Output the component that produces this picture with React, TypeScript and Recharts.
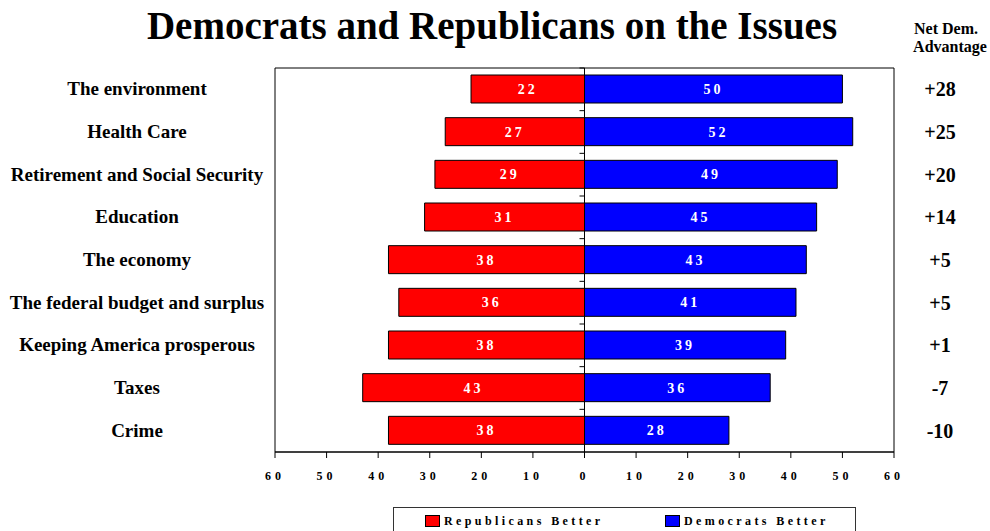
import { BarChart, Bar, XAxis, YAxis, ReferenceLine, ReferenceArea, LabelList } from 'recharts';

const issues = [
  'The environment',
  'Health Care',
  'Retirement and Social Security',
  'Education',
  'The economy',
  'The federal budget and surplus',
  'Keeping America prosperous',
  'Taxes',
  'Crime',
];
const repBetter = [22, 27, 29, 31, 38, 36, 38, 43, 38];
const demBetter = [50, 52, 49, 45, 43, 41, 39, 36, 28];
const netAdvantage = ['+28', '+25', '+20', '+14', '+5', '+5', '+1', '-7', '-10'];
const xTicks = [-60, -50, -40, -30, -20, -10, 0, 10, 20, 30, 40, 50, 60];
const seriesNames = ['Republicans Better', 'Democrats Better'];
const seriesColors = ['#ff0000', '#0000ff'];

const data = issues.map((issue, i) => ({
  issue,
  rep: -repBetter[i],
  dem: demBetter[i],
}));

const W = 990;
const H = 531;
const MARGIN = { top: 68, right: 0, bottom: 49, left: 0 };
const LEFT_AXIS_W = 275;
const RIGHT_AXIS_W = 96;
const X_AXIS_H = 30;
const PLOT_W = W - LEFT_AXIS_W - RIGHT_AXIS_W;
const PLOT_H = H - MARGIN.top - MARGIN.bottom - X_AXIS_H;
const ZERO_X = LEFT_AXIS_W + PLOT_W / 2;
const BAND = PLOT_H / issues.length;
const FONT = '"Liberation Serif", "Times New Roman", serif';

function LeftTick(props: any) {
  const { y, payload } = props;
  const bandTop = y - BAND / 2;
  return (
    <g>
      <text x={137} y={y} dy={6} textAnchor="middle" fontFamily={FONT} fontWeight="bold" fontSize={19} fill="#000">
        {payload.value}
      </text>
      <line x1={ZERO_X - 5} x2={ZERO_X} y1={bandTop} y2={bandTop} stroke="#000" />
    </g>
  );
}

function RightTick(props: any) {
  const { y, index } = props;
  return (
    <text x={940} y={y} dy={7} textAnchor="middle" fontFamily={FONT} fontWeight="bold" fontSize={20} fill="#000">
      {netAdvantage[index]}
    </text>
  );
}

const barLabel = {
  fill: '#fff',
  fontFamily: FONT,
  fontWeight: 'bold',
  fontSize: 14,
  letterSpacing: 3,
};

export default function App() {
  return (
    <div style={{ position: 'absolute', left: 0, top: 0, width: W, height: H, background: '#fff', overflow: 'hidden', fontFamily: FONT }}>
      <svg width={W} height={60} style={{ position: 'absolute', left: 0, top: 0 }}>
        <text x={492} y={39} textAnchor="middle" fontFamily={FONT} fontWeight="bold" fontSize={39} fill="#000">
          Democrats and Republicans on the Issues
        </text>
        <text x={946} y={34} textAnchor="middle" fontFamily={FONT} fontWeight="bold" fontSize={16} fill="#000">
          Net Dem.
        </text>
        <text x={950} y={52} textAnchor="middle" fontFamily={FONT} fontWeight="bold" fontSize={16} fill="#000">
          Advantage
        </text>
      </svg>

      <div style={{ position: 'absolute', left: 0, top: 0 }}>
        <BarChart width={W} height={H} data={data} layout="vertical" margin={MARGIN} stackOffset="sign">
          <ReferenceArea x1={-60} x2={60} yAxisId="cat" fill="none" stroke="#000" strokeWidth={1} />
          <XAxis
            type="number"
            domain={[-60, 60]}
            ticks={xTicks}
            allowDataOverflow
            height={X_AXIS_H}
            tickFormatter={(v) => String(Math.abs(v))}
            axisLine={{ stroke: '#000' }}
            tickLine={{ stroke: '#000' }}
            tickSize={6}
            tickMargin={13}
            tick={{ fill: '#000', fontFamily: FONT, fontWeight: 'bold', fontSize: 12, letterSpacing: 4 }}
          />
          <YAxis yAxisId="cat" type="category" dataKey="issue" width={LEFT_AXIS_W} axisLine={false} tickLine={false} tick={LeftTick} interval={0} />
          <YAxis yAxisId="net" type="category" dataKey="issue" orientation="right" width={RIGHT_AXIS_W} axisLine={false} tickLine={false} tick={RightTick} interval={0} />
          <Bar dataKey="rep" name={seriesNames[0]} yAxisId="cat" stackId="s" fill={seriesColors[0]} stroke="#000" strokeWidth={1} barSize={28} isAnimationActive={false}>
            <LabelList dataKey="rep" position="center" formatter={(v: any) => Math.abs(Number(v))} style={barLabel} />
          </Bar>
          <Bar dataKey="dem" name={seriesNames[1]} yAxisId="cat" stackId="s" fill={seriesColors[1]} stroke="#000" strokeWidth={1} barSize={28} isAnimationActive={false}>
            <LabelList dataKey="dem" position="center" style={barLabel} />
          </Bar>
          <ReferenceLine x={0} yAxisId="cat" stroke="#000" />
        </BarChart>
      </div>

      <div
        style={{
          position: 'absolute',
          left: 393,
          top: 507,
          width: 463,
          height: 30,
          border: '1px solid #333',
          boxSizing: 'border-box',
        }}
      >
        {seriesNames.map((name, i) => (
          <div key={name} style={{ position: 'absolute', left: i === 0 ? 31 : 271, top: 6, display: 'flex', alignItems: 'center' }}>
            <span style={{ display: 'inline-block', width: 13, height: 10, background: seriesColors[i], border: '1px solid #000', marginRight: 4 }} />
            <span style={{ fontWeight: 'bold', fontSize: 12, letterSpacing: 3.4, lineHeight: '14px', color: '#000' }}>{name}</span>
          </div>
        ))}
      </div>
    </div>
  );
}
